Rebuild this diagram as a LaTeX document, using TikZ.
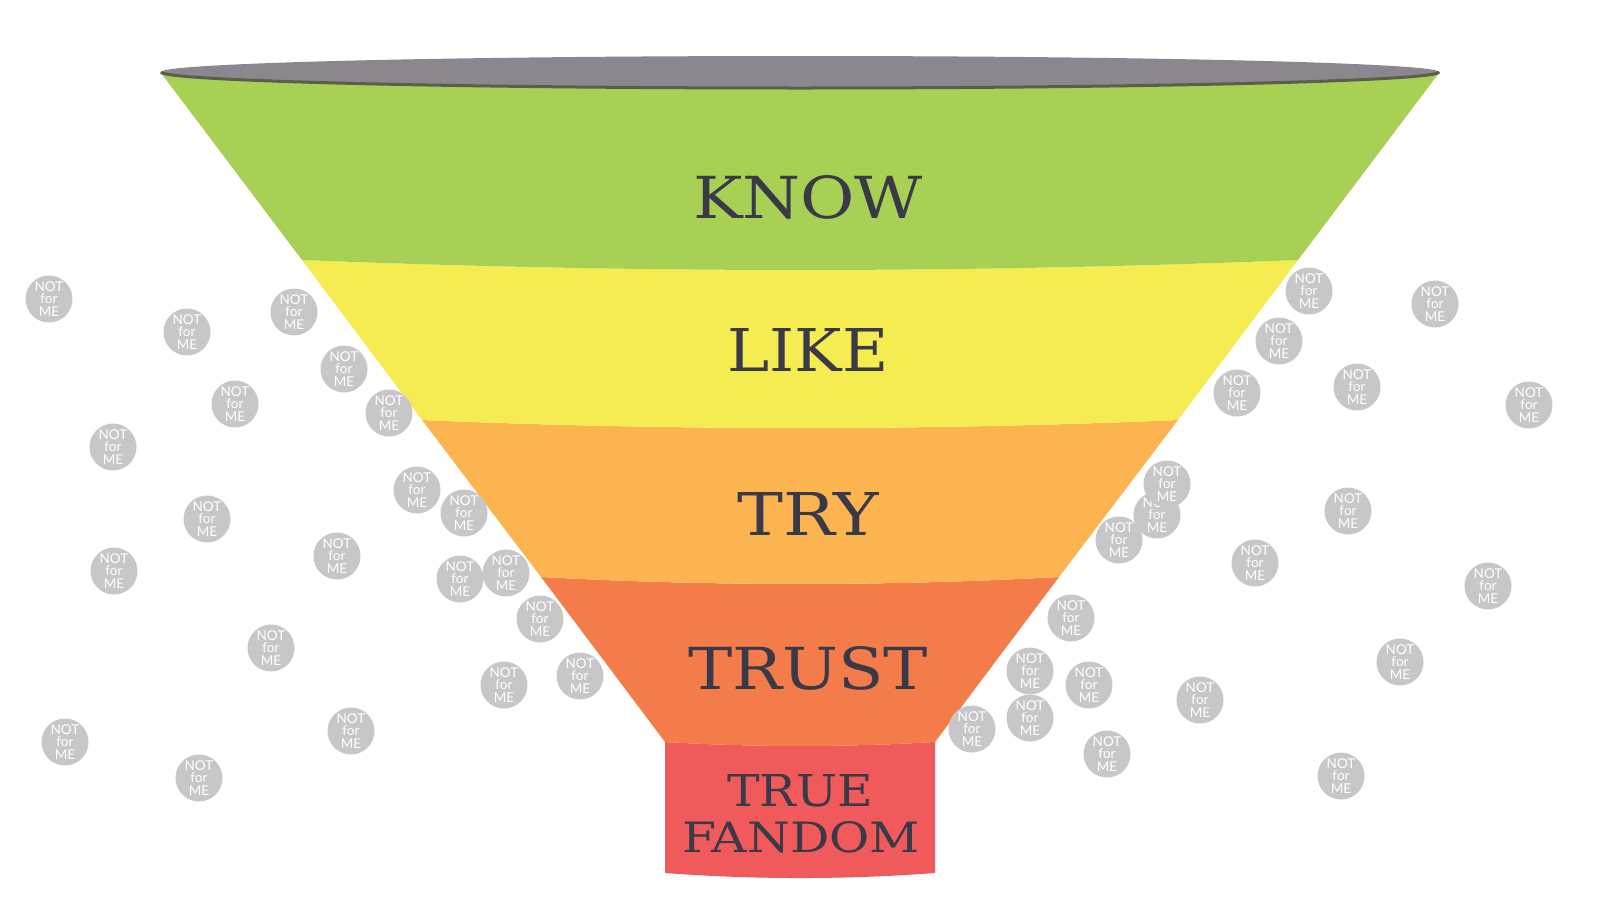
\documentclass[tikz,border=0pt]{standalone}
\usepackage{graphicx}
\usepackage{fontspec}
\setmainfont{DejaVu Serif}
\newfontfamily\bubblefont{Lato}
\definecolor{cgreen}{HTML}{A8D054}
\definecolor{cyellow}{HTML}{F4EC51}
\definecolor{corange}{HTML}{FBB450}
\definecolor{cdorange}{HTML}{F47C4A}
\definecolor{cred}{HTML}{F05A5A}
\definecolor{crim}{HTML}{8C868E}
\definecolor{crimline}{HTML}{5A5E4C}
\definecolor{cbubble}{HTML}{C9C6CA}
\definecolor{clabel}{HTML}{3A3947}
\tikzset{
  bub/.style={circle, fill=cbubble, minimum size=47pt, inner sep=0pt, text=white, align=center,
    font=\bubblefont\fontsize{13.5}{12.5}\selectfont},
  lab/.style={text=clabel, inner sep=0pt, font=\fontsize{40}{48}\selectfont}
}
\begin{document}
\begin{tikzpicture}[x=1pt,y=-1pt]
\useasboundingbox (0,0) rectangle (1600,900);
\fill[white] (0,0) rectangle (1600,900);
% funnel bands
\fill[cred] (665,742) .. controls (755,747.3) and (845,747.3) .. (935,742) -- (935,873) .. controls (845,879.7) and (755,879.7) .. (665,873) -- cycle;
\fill[cdorange] (541,577) .. controls (713.7,586.3) and (886.3,586.3) .. (1059,577) -- (935,742) .. controls (845,747.3) and (755,747.3) .. (665,742) -- cycle;
\fill[corange] (422,420) .. controls (674,430.7) and (926,430.7) .. (1178,420) -- (1059,577) .. controls (886.3,586.3) and (713.7,586.3) .. (541,577) -- cycle;
\fill[cyellow] (302,260) .. controls (634,273.3) and (966,273.3) .. (1298,260) -- (1178,420) .. controls (926,430.7) and (674,430.7) .. (422,420) -- cycle;
\fill[cgreen] (161,73) -- (1439,73) -- (1298,260) .. controls (966,273.3) and (634,273.3) .. (302,260) -- cycle;
% rim
\fill[crim] (800,72) ellipse [x radius=639, y radius=16];
\draw[crimline, line width=3pt] (161,72) arc[start angle=180, end angle=0, x radius=639, y radius=16];
% labels
\node[lab] (know) at (808,197) {\resizebox{230pt}{43pt}{KNOW}};
\node[lab] (like) at (808,350) {\resizebox{161pt}{43pt}{LIKE}};
\node[lab] (try) at (808,514) {\resizebox{141pt}{43pt}{TRY}};
\node[lab] (trust) at (808,668) {\resizebox{240pt}{43pt}{TRUST}};
\node[lab] (true) at (800,791) {\resizebox{146pt}{32pt}{TRUE}};
\node[lab] (fandom) at (801,837.5) {\resizebox{238pt}{31pt}{FANDOM}};
% bubbles
\foreach \n/\x/\y in {1/49/299, 2/187/332, 3/294/312, 4/344/369, 5/235/404, 6/389/413, 7/113/447,
  8/417/490, 9/464/513, 10/207/519, 11/337/556, 12/114/571, 13/460/579, 14/506/573, 15/540/619,
  16/271/648, 17/504/685, 18/580/676, 19/65/742, 20/351/731, 21/199/778,
  22/1309/291, 23/1435/304, 24/1279/341, 25/1237/393, 26/1357/387, 27/1529/405,
  28/1157/515, 29/1167/484, 30/1119/540, 31/1348/511, 32/1255/563, 33/1488/586,
  34/1071/618, 35/1400/662, 36/1030/671, 37/1089/685, 38/1200/700, 39/1030/718,
  40/972/729, 41/1107/754, 42/1341/776}
  \node[bub] (b\n) at (\x,\y) {NOT\\for\\ME};
\end{tikzpicture}
\end{document}
